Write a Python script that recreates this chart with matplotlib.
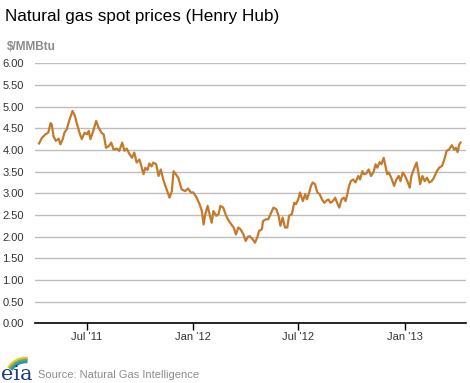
import numpy as np
import pandas as pd
import matplotlib
matplotlib.use("Agg")
from matplotlib import pyplot as plt
from matplotlib.patches import Arc

# Henry Hub spot price, $/MMBtu
dates = [
    "2011-04-09", "2011-04-14", "2011-04-20", "2011-04-25", "2011-04-29", "2011-05-01",
    "2011-05-04", "2011-05-08", "2011-05-13", "2011-05-16", "2011-05-20", "2011-05-23",
    "2011-05-27", "2011-06-01", "2011-06-06", "2011-06-10", "2011-06-14", "2011-06-18",
    "2011-06-22", "2011-06-27", "2011-07-01", "2011-07-04", "2011-07-07", "2011-07-11",
    "2011-07-17", "2011-07-21", "2011-07-26", "2011-07-30", "2011-08-03", "2011-08-08",
    "2011-08-12", "2011-08-16", "2011-08-22", "2011-08-26", "2011-08-31", "2011-09-04",
    "2011-09-08", "2011-09-12", "2011-09-17", "2011-09-21", "2011-09-25", "2011-09-30",
    "2011-10-04", "2011-10-07", "2011-10-10", "2011-10-14", "2011-10-17", "2011-10-21",
    "2011-10-24", "2011-10-29", "2011-11-02", "2011-11-06", "2011-11-10", "2011-11-15",
    "2011-11-21", "2011-11-25", "2011-11-28", "2011-12-02", "2011-12-06", "2011-12-12",
    "2011-12-18", "2011-12-23", "2011-12-28", "2012-01-01", "2012-01-07", "2012-01-12",
    "2012-01-16", "2012-01-19", "2012-01-22", "2012-01-26", "2012-01-30", "2012-02-02",
    "2012-02-05", "2012-02-10", "2012-02-14", "2012-02-17", "2012-02-22", "2012-02-26",
    "2012-03-01", "2012-03-05", "2012-03-11", "2012-03-15", "2012-03-19", "2012-03-23",
    "2012-03-28", "2012-04-01", "2012-04-05", "2012-04-08", "2012-04-13", "2012-04-17",
    "2012-04-21", "2012-04-24", "2012-04-29", "2012-05-01", "2012-05-06", "2012-05-10",
    "2012-05-14", "2012-05-19", "2012-05-24", "2012-05-28", "2012-05-31", "2012-06-04",
    "2012-06-08", "2012-06-12", "2012-06-15", "2012-06-20", "2012-06-24", "2012-06-27",
    "2012-07-01", "2012-07-04", "2012-07-09", "2012-07-13", "2012-07-16", "2012-07-19",
    "2012-07-23", "2012-07-26", "2012-07-30", "2012-08-03", "2012-08-07", "2012-08-11",
    "2012-08-15", "2012-08-18", "2012-08-22", "2012-08-26", "2012-08-30", "2012-09-03",
    "2012-09-05", "2012-09-10", "2012-09-14", "2012-09-18", "2012-09-21", "2012-09-24",
    "2012-09-27", "2012-09-30", "2012-10-04", "2012-10-08", "2012-10-13", "2012-10-16",
    "2012-10-20", "2012-10-23", "2012-10-27", "2012-10-31", "2012-11-04", "2012-11-08",
    "2012-11-12", "2012-11-15", "2012-11-19", "2012-11-22", "2012-11-26", "2012-11-29",
    "2012-12-02", "2012-12-05", "2012-12-09", "2012-12-14", "2012-12-18", "2012-12-22",
    "2012-12-25", "2012-12-29", "2013-01-02", "2013-01-06", "2013-01-10", "2013-01-13",
    "2013-01-17", "2013-01-22", "2013-01-25", "2013-01-28", "2013-02-01", "2013-02-05",
    "2013-02-09", "2013-02-13", "2013-02-17", "2013-02-21", "2013-02-26", "2013-03-02",
    "2013-03-07", "2013-03-11", "2013-03-15", "2013-03-19", "2013-03-24", "2013-03-28",
    "2013-03-31", "2013-04-03", "2013-04-06", "2013-04-08",
]
prices = [
    4.15, 4.28, 4.36, 4.40, 4.62, 4.59,
    4.32, 4.21, 4.26, 4.13, 4.25, 4.40,
    4.48, 4.71, 4.90, 4.79, 4.59, 4.40,
    4.25, 4.40, 4.36, 4.44, 4.25, 4.40,
    4.67, 4.52, 4.40, 4.36, 4.05, 4.09,
    4.17, 4.01, 4.03, 3.98, 4.17, 3.98,
    4.03, 3.92, 3.82, 3.94, 3.71, 3.78,
    3.59, 3.44, 3.59, 3.54, 3.69, 3.62,
    3.71, 3.67, 3.40, 3.55, 3.32, 3.13,
    2.90, 3.05, 3.51, 3.44, 3.36, 3.09,
    3.05, 3.11, 3.02, 3.02, 2.90, 2.75,
    2.59, 2.28, 2.52, 2.71, 2.48, 2.32,
    2.59, 2.48, 2.52, 2.71, 2.67, 2.52,
    2.40, 2.32, 2.21, 2.05, 2.21, 2.17,
    2.05, 1.90, 2.00, 2.01, 1.94, 1.86,
    1.98, 2.13, 2.17, 2.36, 2.40, 2.40,
    2.52, 2.67, 2.63, 2.48, 2.25, 2.44,
    2.21, 2.21, 2.48, 2.52, 2.78, 2.75,
    2.86, 3.02, 2.82, 2.98, 2.86, 2.98,
    3.17, 3.25, 3.21, 3.02, 2.98, 2.86,
    2.78, 2.82, 2.86, 2.78, 2.82, 2.90,
    2.82, 2.67, 2.86, 2.90, 2.82, 2.98,
    3.17, 3.28, 3.32, 3.25, 3.40, 3.32,
    3.51, 3.44, 3.46, 3.55, 3.40, 3.48,
    3.67, 3.59, 3.72, 3.67, 3.82, 3.63,
    3.44, 3.48, 3.36, 3.17, 3.32, 3.40,
    3.28, 3.48, 3.40, 3.28, 3.13, 3.40,
    3.55, 3.71, 3.48, 3.21, 3.40, 3.28,
    3.36, 3.25, 3.28, 3.36, 3.51, 3.59,
    3.63, 3.78, 3.98, 4.01, 4.11, 4.01,
    4.05, 3.95, 4.13, 4.17,
]
xticks = ["2011-07-01", "2012-01-01", "2012-07-01", "2013-01-01"]
xtick_labels = ["Jul '11", "Jan '12", "Jul '12", "Jan '13"]
yticks = np.arange(0, 6.01, 0.5)

plt.rcParams['font.family'] = ['Liberation Sans', 'DejaVu Sans']

fig = plt.figure(figsize=(4.70, 3.83), dpi=100)
ax = fig.add_axes([35 / 470, 1 - 323.3 / 383, 430.7 / 470, 260 / 383])

x = pd.to_datetime(dates)
ax.plot(x, prices, color="#c47a2c", lw=1.6, solid_joinstyle="round")

ax.set_ylim(0, 6)
ax.set_xlim(pd.Timestamp("2011-04-02"), pd.Timestamp("2013-04-17"))
ax.set_yticks(yticks)
ax.set_yticklabels(["%.2f" % v for v in yticks], fontsize=8, color="#333333")
ax.set_xticks(pd.to_datetime(xticks))
ax.set_xticklabels(xtick_labels, fontsize=8, color="#333333")
ax.tick_params(axis="y", length=0, pad=8)
ax.tick_params(axis="x", length=5, width=1, color="black", pad=1, direction="out")

ax.grid(axis="y", color="#bdbdbd", lw=1)
ax.set_axisbelow(True)
for s in ["top", "right", "left"]:
    ax.spines[s].set_visible(False)
ax.spines["bottom"].set_color("black")
ax.spines["bottom"].set_linewidth(1.2)
ax.spines["bottom"].set_zorder(5)

# titles
fig.text(5 / 470, 1 - 9 / 383, "Natural gas spot prices (Henry Hub)", fontsize=12.3,
         va="top", ha="left", color="black")
fig.text(7 / 470, 1 - 47 / 383, "$/MMBtu", fontsize=8.5, fontweight="bold",
         va="center", ha="left", color="#8c8c8c")
fig.text(38 / 470, 1 - 375 / 383, "Source: Natural Gas Intelligence", fontsize=8,
         va="center", ha="left", color="#8c8c8c")

# eia logo
fig.text(0.5 / 470, 1 - 384 / 383, "eia", fontsize=15, family="DejaVu Serif",
         color="#1f3f73", va="bottom", ha="left")
lax = fig.add_axes([0, 0, 40 / 470, 40 / 383])
lax.set_xlim(0, 40)
lax.set_ylim(0, 40)
lax.axis("off")
for r, c in [(21, "#f2c31c"), (19, "#5ab34a"), (17, "#2b8ad0")]:
    lax.add_patch(Arc((26, 4), 2 * r, 2 * r, theta1=85, theta2=148, color=c, lw=1.8))

fig.savefig("out.png", dpi=100)
